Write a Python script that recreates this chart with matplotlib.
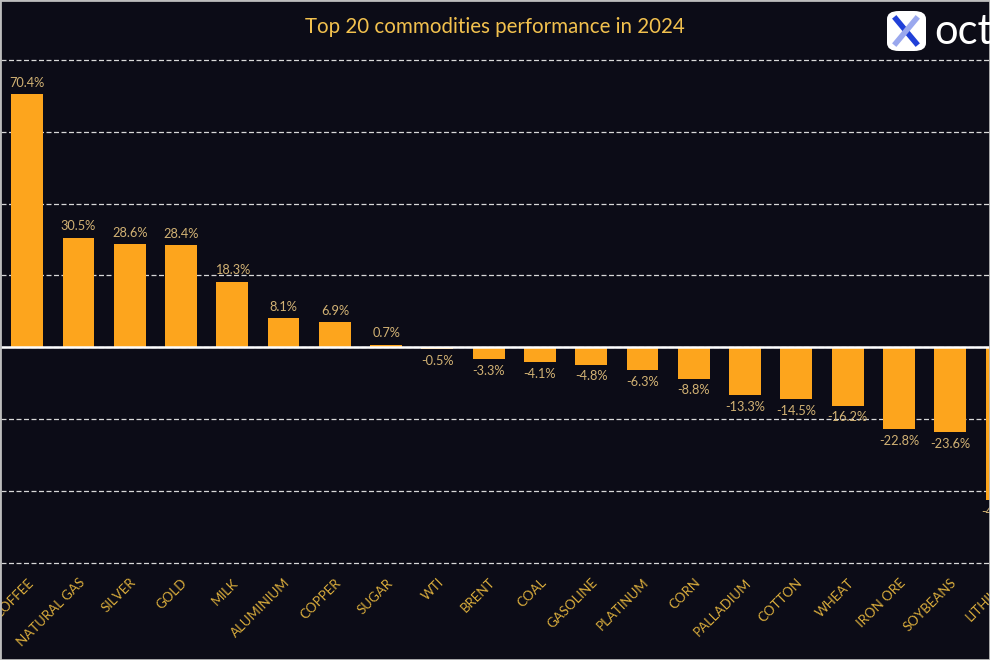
import matplotlib.pyplot as plt
from matplotlib.patches import FancyBboxPatch, Rectangle
from matplotlib.lines import Line2D

commodities = ['COFFEE', 'NATURAL GAS', 'SILVER', 'GOLD', 'MILK', 'ALUMINIUM',
               'COPPER', 'SUGAR', 'WTI', 'BRENT', 'COAL', 'GASOLINE', 'PLATINUM',
               'CORN', 'PALLADIUM', 'COTTON', 'WHEAT', 'IRON ORE', 'SOYBEANS', 'LITHIUM']
performance = [70.4, 30.5, 28.6, 28.4, 18.3, 8.1, 6.9, 0.7, -0.5, -3.3, -4.1, -4.8,
               -6.3, -8.8, -13.3, -14.5, -16.2, -22.8, -23.6, -42.5]
gridTicks = [-60, -40, -20, 0, 20, 40, 60, 80]

bgColor = '#0c0c17'
barColor = '#fda51d'
valueColor = '#d2b274'
tickColor = '#d9ac3c'
titleColor = '#f2c14e'

plt.rcParams['font.family'] = ['Lato', 'DejaVu Sans']

fig = plt.figure(figsize=(9.9, 6.6), dpi=100, facecolor=bgColor)
# axes runs past the right edge on purpose (last bar is cut off in the original)
ax = fig.add_axes([0.0015, 0.1415, 1.036, 0.7735], facecolor=bgColor)

x = list(range(len(commodities)))
bars = ax.bar(x, performance, width=0.62, color=barColor, zorder=3)

for i, val in enumerate(performance):
    if val >= 0:
        ax.annotate(f'{val}%', (i, val), xytext=(0, 4), textcoords='offset points',
                    ha='center', va='bottom', fontsize=9.2, color=valueColor, zorder=4)
    else:
        ax.annotate(f'{val}%', (i, val), xytext=(0, -4), textcoords='offset points',
                    ha='center', va='top', fontsize=9.2, color=valueColor, zorder=4)

ax.set_xlim(-0.5, len(commodities) - 0.5)
ax.set_ylim(-61, 81)
ax.set_yticks(gridTicks)
ax.set_yticklabels([])
ax.tick_params(axis='y', length=0)
ax.yaxis.grid(True, linestyle=(0, (4, 2)), color='#d8d8d8', linewidth=0.9, zorder=0)
ax.axhline(0, color='white', linewidth=1.8, zorder=4)

ax.set_xticks(x)
ax.set_xticklabels(commodities, rotation=45, ha='right', rotation_mode='anchor',
                   fontsize=9.5, color=tickColor)
ax.tick_params(axis='x', length=0, pad=7)

for s in ax.spines.values():
    s.set_visible(False)

fig.text(0.5, 0.959, 'Top 20 commodities performance in 2024', ha='center', va='center',
         fontsize=14.8, color=titleColor)

# logo, top right
logo = FancyBboxPatch((887 / 990, 1 - 51 / 660), 39 / 990, 40 / 660,
                      boxstyle='round,pad=0,rounding_size=0.012',
                      transform=fig.transFigure, facecolor='white', edgecolor='none')
fig.patches.append(logo)
fig.lines.append(Line2D([896 / 990, 916 / 990], [1 - 19 / 660, 1 - 43 / 660],
                        transform=fig.transFigure, color='#2040d8', linewidth=4))
fig.lines.append(Line2D([896 / 990, 916 / 990], [1 - 43 / 660, 1 - 19 / 660],
                        transform=fig.transFigure, color='#9aa8ee', linewidth=4))
fig.text(934 / 990, 1 - 32 / 660, 'octa', ha='left', va='center',
         fontsize=30, color='white')

# thin frame around picture
fig.patches.append(Rectangle((0, 0), 1, 1, transform=fig.transFigure, fill=False,
                             edgecolor='#bdbdbd', linewidth=2))

fig.savefig('out.png', dpi=100, facecolor=bgColor)
